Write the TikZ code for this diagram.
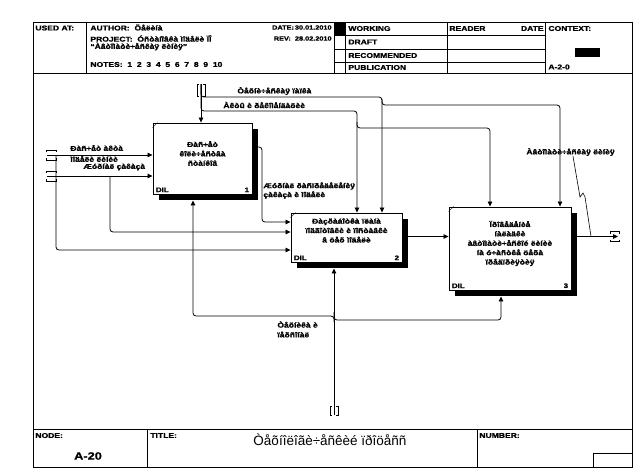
\documentclass[tikz,border=0pt]{standalone}
\usepackage{fontspec}
\setmainfont{Liberation Sans}
\newfontfamily\wf{Liberation Sans}[FakeStretch=1.22,BoldFeatures={FakeBold=1.1}]
\usetikzlibrary{arrows.meta,shadows,calc}
\begin{document}
\begin{tikzpicture}[x=1pt,y=-1pt,line width=0.8pt,
  lbl/.style={font=\wf\bfseries\fontsize{7}{8.5}\selectfont,inner sep=0pt,anchor=west},
  ctr/.style={font=\wf\bfseries\fontsize{7}{9.4}\selectfont,inner sep=0pt,align=center},
  hdr/.style={font=\wf\bfseries\fontsize{7}{7.5}\selectfont,inner sep=0pt,anchor=west},
  hdrs/.style={font=\wf\bfseries\fontsize{6}{7}\selectfont,inner sep=0pt,anchor=east},
  small/.style={font=\wf\bfseries\fontsize{6.5}{7}\selectfont,inner sep=0pt},
  act/.style={draw,fill=white,inner sep=0pt,line width=0.9pt,
    drop shadow={shadow xshift=6pt,shadow yshift=-6pt,opacity=1,fill=black}},
  arr/.style={-{Triangle[length=5pt,width=4.5pt]},rounded corners=3pt},
  tun/.style={line width=0.8pt}]
\useasboundingbox (0,0) rectangle (644,472);
\fill[white] (0,0) rectangle (644,472);
% ---------- frame ----------
\draw[line width=0.9pt] (33,22) rectangle (632,467);
\draw (33,73.5) -- (632,73.5);
\foreach \x in {86,334,345,447,545} \draw (\x,22) -- (\x,73.5);
\foreach \y in {35,49,62.5} \draw (334,\y) -- (545,\y);
\fill (334,22) rectangle (345,35);
\fill (575,48) rectangle (600,57);
\draw (33,429) -- (632,429);
\draw (147,429) -- (147,467);
\draw (477,429) -- (477,467);
\draw (593,453) rectangle (632,467);
% header texts
\node[hdr] (h-used) at (35,28) {USED AT:};
\node[hdr] (h-auth) at (90,27.5) {AUTHOR:\ \ Öåëèíà};
\node[hdr] (h-proj) at (90,38.5) {PROJECT:\ \ Óñòàíîâêà ìîäåëè ÏÎ};
\node[hdr] (h-proj2) at (90,46.5) {“Àâòîìàòè÷åñêàÿ ëèíèÿ”};
\node[hdr] (h-notes) at (90,64.5) {NOTES:\ \ 1\ \ 2\ \ 3\ \ 4\ \ 5\ \ 6\ \ 7\ \ 8\ \ 9\ \ 10};
\node[hdrs] (h-date) at (332,27.5) {DATE:\,30.01.2010};
\node[hdrs] (h-rev) at (332,38.5) {REV:\ \ 28.02.2010};
\node[hdr] (h-work) at (348,28.5) {WORKING};
\node[hdr] (h-draft) at (348,42) {DRAFT};
\node[hdr] (h-rec) at (348,55.5) {RECOMMENDED};
\node[hdr] (h-pub) at (348,67.5) {PUBLICATION};
\node[hdr] (h-read) at (449,28.5) {READER};
\node[hdr,anchor=east] (h-date2) at (544,28.5) {DATE};
\node[hdr] (h-ctx) at (548,28.5) {CONTEXT:};
\node[hdr] (h-a20) at (548,67) {A-2-0};
% footer texts
\node[hdr] (f-node) at (35,435.5) {NODE:};
\node[font=\wf\bfseries\fontsize{10.5}{12}\selectfont,inner sep=0pt] (f-a20) at (88,456) {A-20};
\node[hdr] (f-title) at (150,435.5) {TITLE:};
\node[font=\fontsize{13.5}{15}\selectfont,inner sep=0pt] (f-ttl) at (330,439.5) {Òåõíîëîãè÷åñêèé ïðîöåññ};
\node[hdr] (f-num) at (479,435.5) {NUMBER:};
% ---------- activity boxes ----------
\node[act,minimum width=99pt,minimum height=71pt] (b1) at (202.5,158.5) {};
\node[act,minimum width=111pt,minimum height=49pt] (b2) at (346.5,237.5) {};
\node[act,minimum width=122pt,minimum height=83pt] (b3) at (510,248.5) {};
\node[ctr] (t1) at (202.5,153.5) {Ðàñ÷åò\\êîëè÷åñòâà\\ñòàíêîâ};
\node[ctr] (t2) at (346.5,230.5) {Ðàçðàáîòêà ïëàíà\\ïîäãîòîâêè è ïîñòàâêè\\â öåõ ìîäåëè};
\node[ctr] (t3) at (510,243.5) {Ïðîâåäåíèå\\íàëàäêè\\àâòîìàòè÷åñêîé ëèíèè\\íà ó÷àñòêå öåõà\\ïðåäïðèÿòèÿ};
\foreach \b/\n in {b1/1,b2/2,b3/3}{
  \node[small,anchor=south west] (\b-cost) at ($(\b.south west)+(3,-2)$) {DIL};
  \node[small,anchor=south east] (\b-num) at ($(\b.south east)+(-3,-2)$) {\n};
  \draw[line width=0.5pt] ($(\b.north west)+(0,5)$) -- ($(\b.north west)+(5,0)$);
}
% ---------- tunnel coordinates ----------
\coordinate (i1) at (47,155);
\coordinate (i2) at (47,176);
\coordinate (c0) at (201,84);
\coordinate (m0) at (334,415);
\coordinate (o1) at (618,236.5);
% ---------- inputs ----------
\draw[arr] (i1) -- (i1 -| b1.west);
\draw[arr] (i2) -- (i2 -| b1.west);
\draw[arr] ([xshift=9pt]i1) |- (b2.west |- 0,250);
\draw[arr] ([xshift=63pt]i2) |- (b2.west |- 0,232);
\draw[arr] (b1.east |- 0,147) -- (262,147) -- (262,222) -- (b2.west |- 0,222);
\draw[arr] (b2.east |- 0,236.5) -- (b3.west |- 0,236.5);
\draw[arr] (b3.east |- o1) -- (o1);
% ---------- controls ----------
\draw[arr] (c0) -- (c0 |- b1.north);
\draw[arr] (c0) |- (382,97) -- (b2.north -| 382,0);
\draw[arr] (c0) |- (357,111) -- (b2.north -| 357,0);
\draw[arr] (382,99) |- (560,105) -- (b3.north -| 560,0);
\draw[arr] (357,122) |- (490,128) -- (b3.north -| 490,0);
% ---------- mechanisms ----------
\draw[arr] (m0) -- ($(b2.south -| m0)+(0,6)$);
\draw[arr] (334,322) |- (193,316) -- ($(b1.south -| 193,0)+(0,6)$);
\draw[arr] (334,312) |- (501,320) -- ($(b3.south -| 501,0)+(0,6)$);
% ---------- tunnels ----------
\foreach \c in {i1,i2}{
  \draw[tun] ($(\c)+(-1,-3)$) -- ++(0,-2) -- ++(10,0) -- ++(0,2);
  \draw[tun] ($(\c)+(-1,3)$) -- ++(0,2) -- ++(10,0) -- ++(0,-2);
}
\draw[tun] ($(o1)+(-8,-3)$) -- ++(0,-2) -- ++(9,0) -- ++(0,2);
\draw[tun] ($(o1)+(-8,3)$) -- ++(0,2) -- ++(9,0) -- ++(0,-2);
\draw[tun] ($(c0)+(-2,0)$) -- ++(-2,0) -- ++(0,12) -- ++(2,0);
\draw[tun] ($(c0)+(2,0)$) -- ++(2,0) -- ++(0,12) -- ++(-2,0);
\draw[tun] ($(m0)+(-2,-9)$) -- ++(-2,0) -- ++(0,9) -- ++(2,0);
\draw[tun] ($(m0)+(2,-9)$) -- ++(2,0) -- ++(0,9) -- ++(-2,0);
% ---------- arrow labels ----------
\node[lbl] (l-i1a) at (70,148) {Ðàñ÷åò àêòà};
\node[lbl] (l-i1b) at (70,159) {ìîäåëè ëèíèè};
\node[lbl] (l-i2) at (83,167) {Æóðíàë çàêàçà};
\node[lbl] (l-c1) at (237,91) {Òåõíè÷åñêàÿ ïàïêà};
\node[lbl] (l-c2) at (223,105) {Àêòû è ðåêîìåíäàöèè};
\node[lbl] (l-o1a) at (263,186) {Æóðíàë ðàñïðåäåëåíèÿ};
\node[lbl] (l-o1b) at (263,195) {çàêàçà è ìîäåëè};
\node[lbl] (l-out) at (526,152) {Àâòîìàòè÷åñêàÿ ëèíèÿ};
\node[lbl] (l-m1) at (277,324.5) {Òåõíèêà è};
\node[lbl] (l-m2) at (277,334.5) {ïåðñîíàë};
\draw[line width=0.6pt] (l-out.south -| 573,0) -- (580,197) -- (583,193) -- (585,197) -- (591,236.5);
\end{tikzpicture}
\end{document}
